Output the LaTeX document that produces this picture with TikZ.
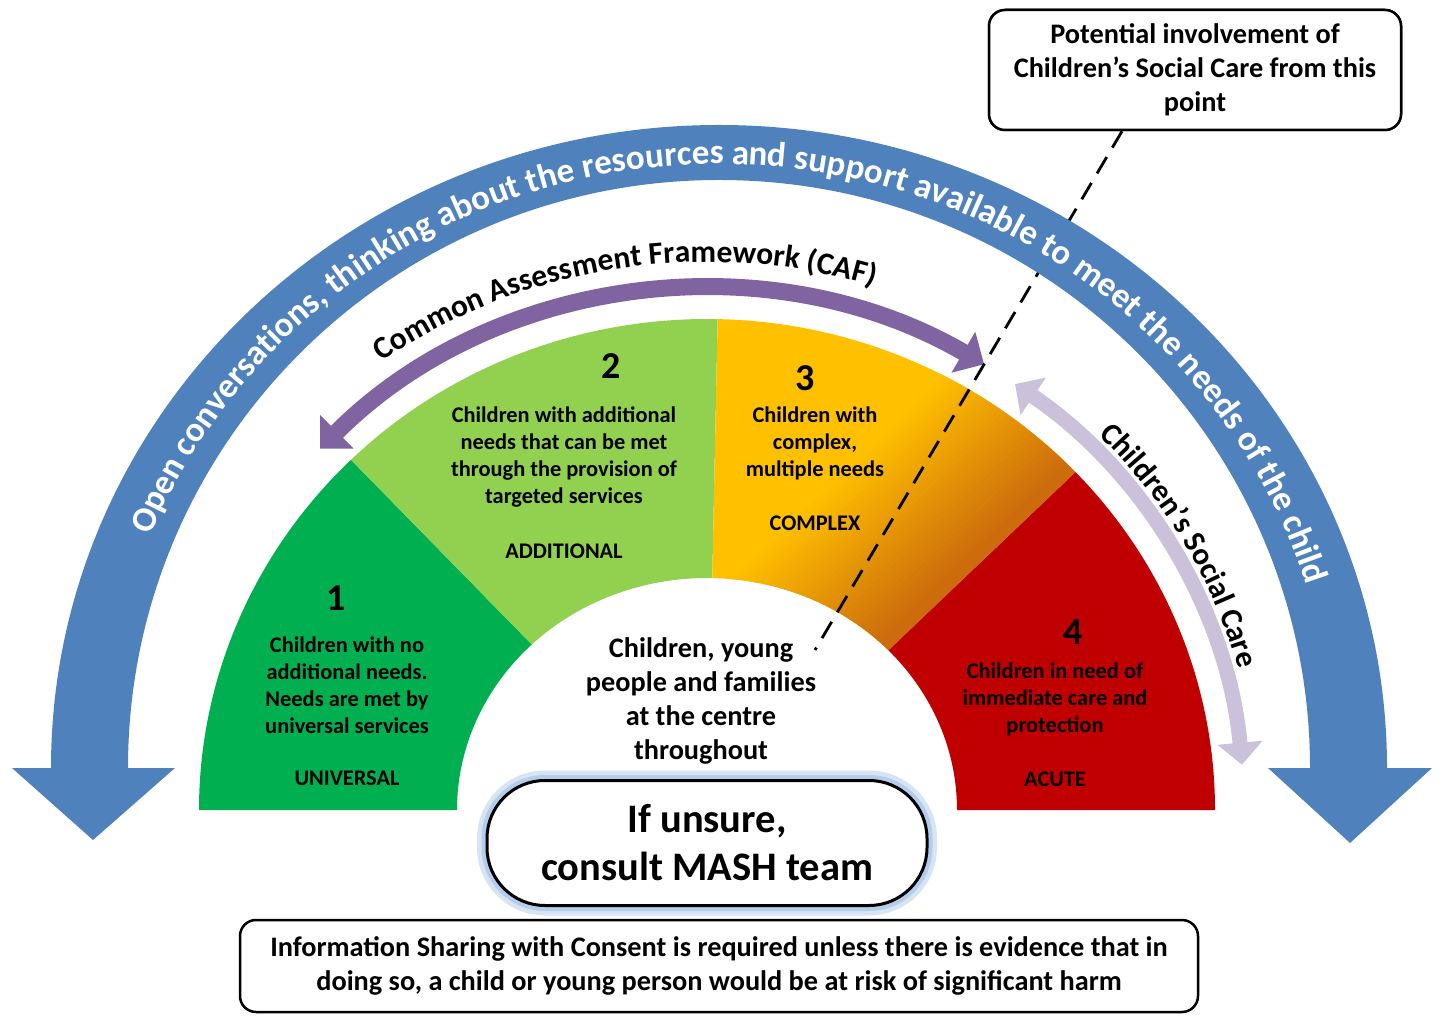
\documentclass[tikz,border=0pt]{standalone}
\usepackage{fontspec}
\setmainfont{Carlito}
\usetikzlibrary{arrows.meta, positioning, calc, decorations.text}

\definecolor{arcblue}{RGB}{79,129,189}
\definecolor{cafpurple}{RGB}{128,100,162}
\definecolor{csclilac}{RGB}{204,193,218}
\definecolor{univgreen}{RGB}{0,176,80}
\definecolor{addgreen}{RGB}{146,208,80}
\definecolor{cplxyellow}{RGB}{255,192,0}
\definecolor{cplxorange}{RGB}{204,108,12}
\definecolor{acutered}{RGB}{192,0,0}
\definecolor{glowblue}{RGB}{180,205,235}

\begin{document}
\begin{tikzpicture}[x=1pt, y=1pt,
    lbl/.style={align=center, inner sep=0pt, font=\bfseries\fontsize{22.4}{27}\selectfont},
    num/.style={inner sep=0pt, font=\bfseries\fontsize{38}{40}\selectfont},
    tier/.style={inner sep=0pt, font=\bfseries\fontsize{22.3}{24}\selectfont},
    infobox/.style={draw, line width=2.5pt, rounded corners=16pt, align=center, fill=white, font=\bfseries\fontsize{28.3}{34}\selectfont},
    mashbox/.style={draw, line width=3pt, rounded corners=58pt, align=center, fill=white, font=\bfseries\fontsize{40.5}{48}\selectfont,
        preaction={draw=glowblue!55, line width=20pt}, preaction={draw=glowblue, line width=11pt}},
    dashline/.style={dash pattern=on 19pt off 11pt, line width=2.8pt},
    ]
    \useasboundingbox (0,0) rectangle (1442,1015);

    \coordinate (F) at (707,205);   % centre of the fan
    \coordinate (B) at (719,247);   % centre of the big arc

    % Fan
    \foreach \from/\to/\col in {180/134.5/univgreen, 134.5/88.8/addgreen, 88.8/43.5/cplxyellow, 43.5/0/acutered}
        \fill[\col] ($(F)+(\from:508 and 491)$) arc[start angle=\from, end angle=\to, x radius=508, y radius=491]
            -- ($(F)+(\to:250 and 232)$) arc[start angle=\to, end angle=\from, x radius=250, y radius=232] -- cycle;
    \begin{scope}
        \clip ($(F)+(88.8:508 and 491)$) arc[start angle=88.8, end angle=43.5, x radius=508, y radius=491]
            -- ($(F)+(43.5:250 and 232)$) arc[start angle=43.5, end angle=88.8, x radius=250, y radius=232] -- cycle;
        \begin{scope}[shift={(F)}, rotate=43.5]
            \fill[cplxorange] (0,-40) rectangle (620,0.5);
            \foreach \d in {0,5,...,150} {
                \pgfmathsetmacro{\pc}{100-\d/1.5}
                \fill[cplxorange!\pc!cplxyellow] (0,\d) rectangle (620,\d+5.5);
            }
        \end{scope}
    \end{scope}

    % Nodes
    \node (one) [num] at (336,417) {1};
    \node (univtext) [lbl] at (347,330) {Children with no\\additional needs.\\Needs are met by\\universal services};
    \node (univ) [tier] at (347,237) {UNIVERSAL};
    \node (two) [num] at (611,649) {2};
    \node (addtext) [lbl] at (564,558) {Children with additional\\needs that can be met\\through the provision of\\targeted services};
    \node (add) [tier] at (564,464) {ADDITIONAL};
    \node (three) [num] at (805,637) {3};
    \node (cplxtext) [lbl] at (815,572) {Children with\\complex,\\multiple needs};
    \node (cplx) [tier] at (815,492) {COMPLEX};
    \node (four) [num] at (1073,383) {4};
    \node (acutetext) [lbl] at (1055,316) {Children in need of\\immediate care and\\protection};
    \node (acute) [tier] at (1055,236) {ACUTE};
    \node (centre) [align=center, inner sep=0pt, font=\bfseries\fontsize{28.3}{34}\selectfont] at (701,314) {Children, young\\people and families\\at the centre\\throughout};

    % Arrows
    \draw[cafpurple, line width=17pt, {Triangle[width=46pt,length=24pt]}-{Triangle[width=46pt,length=24pt]}]
        ($(F)+(136:538 and 520)$) arc[start angle=136, end angle=59, x radius=538, y radius=520];
    \draw[csclilac, line width=15pt, {Triangle[width=44pt,length=22pt]}-{Triangle[width=44pt,length=22pt]}]
        ($(F)+(55:537 and 520)$) arc[start angle=55, end angle=5, x radius=537, y radius=520];

    \node (potential) [infobox, minimum width=412, minimum height=120] at (1195,945) {Potential involvement of\\Children’s Social Care from this\\point};
    \coordinate (dashend) at (815,365);
    \draw[dashline] ($(potential.south)+(-73,0)$) -- (dashend);
    \node (potential) [infobox, minimum width=412, minimum height=120] at (1195,945) {Potential involvement of\\Children’s Social Care from this\\point};

    \fill[arcblue] ($(B)+(180:668 and 643)$) arc[start angle=180, end angle=0, x radius=668, y radius=643]
        -- (1432,247) -- (1350,172) -- (1268,247)
        -- ($(B)+(0:591 and 588)$) arc[start angle=0, end angle=180, x radius=591, y radius=588]
        -- (175,247) -- (93,175) -- (12,247) -- cycle;

    % Texts along the arcs
    \path[decorate, decoration={text along path, text align=center, text color=white,
        text={|\bfseries\fontsize{35}{34}\selectfont|Open conversations, thinking about the resources and support available to meet the needs of the child}}]
        ($(B)+(175:616 and 604)$) arc[start angle=175, end angle=0, x radius=616, y radius=604];
    \path[decorate, decoration={text along path, text align=center,
        text={|\bfseries\fontsize{31.5}{32}\selectfont|Common Assessment Framework (CAF)}}]
        ($(F)+(126:566 and 548)$) arc[start angle=126, end angle=72, x radius=566, y radius=548];
    \path[decorate, decoration={text along path, text align=center,
        text={|\bfseries\fontsize{31}{31}\selectfont|Children’s Social Care}}]
        ($(F)+(47:551 and 533)$) arc[start angle=47, end angle=13, x radius=551, y radius=533];

    \node (mash) [mashbox, minimum width=440, minimum height=125] at (707,172) {If unsure,\\consult MASH team};
    \node (consent) [infobox, minimum width=958, minimum height=92] at (719,49) {Information Sharing with Consent is required unless there is evidence that in\\doing so, a child or young person would be at risk of significant harm};
\end{tikzpicture}
\end{document}
